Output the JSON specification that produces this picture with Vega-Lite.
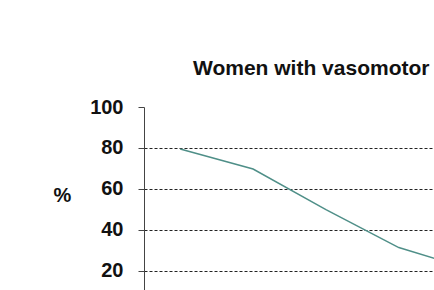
{
  "$schema": "https://vega.github.io/schema/vega-lite/v6.json",
  "width": 290,
  "height": 183,
  "autosize": {"type": "none"},
  "padding": {"left": 144, "top": 107, "right": 0, "bottom": 0},
  "background": "white",
  "title": {
    "text": "Women with vasomotor",
    "anchor": "start",
    "frame": "group",
    "dx": 49,
    "font": "Liberation Sans",
    "fontSize": 21,
    "fontWeight": "bold",
    "color": "#111111",
    "offset": 18
  },
  "config": {"view": {"stroke": null}},
  "data": {
    "values": [
      {"point": 1, "pct": 79.5},
      {"point": 2, "pct": 69.7},
      {"point": 3, "pct": 49.8},
      {"point": 4, "pct": 31.3},
      {"point": 5, "pct": 20.4}
    ]
  },
  "mark": {"type": "line", "color": "#4f8f88", "strokeWidth": 1.5, "clip": true},
  "encoding": {
    "x": {
      "field": "point",
      "type": "quantitative",
      "scale": {"domain": [0.503, 4.483], "nice": false, "zero": false},
      "axis": null
    },
    "y": {
      "field": "pct",
      "type": "quantitative",
      "scale": {"domain": [10.55, 100], "nice": false, "zero": false},
      "axis": {
        "values": [20, 40, 60, 80, 100],
        "title": "%",
        "titleAngle": 0,
        "titleAlign": "center",
        "titleBaseline": "middle",
        "titleX": -82,
        "titleY": 88,
        "titleFont": "Liberation Sans",
        "titleFontSize": 20,
        "titleFontWeight": "bold",
        "titleColor": "#111111",
        "labelFont": "Liberation Sans",
        "labelFontSize": 20,
        "labelFontWeight": "bold",
        "labelColor": "#111111",
        "labelPadding": 15,
        "tickSize": 6,
        "tickColor": "#444444",
        "domainColor": "#444444",
        "domainWidth": 1,
        "grid": true,
        "gridColor": "#222222",
        "gridDash": [3, 2],
        "gridWidth": 1,
        "gridOpacity": {"condition": {"test": "datum.value === 100", "value": 0}, "value": 1}
      }
    }
  }
}
